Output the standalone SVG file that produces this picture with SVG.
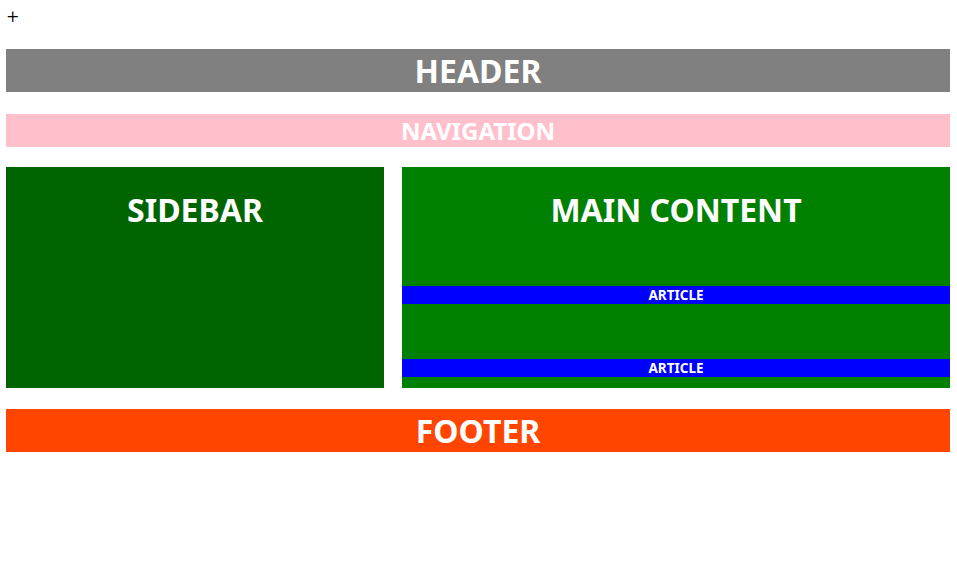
<svg xmlns="http://www.w3.org/2000/svg" width="957" height="567" viewBox="0 0 957 567">
<style>
text{font-family:"Noto Sans","DejaVu Sans",sans-serif;font-weight:bold;fill:#fff;text-anchor:middle}
.big{font-size:32px}
.nav{font-size:24px}
.art{font-size:13.5px}
</style>
<rect width="957" height="567" fill="#fff"/>
<text x="6" y="22" style="font-weight:normal;fill:#000;text-anchor:start;font-size:16px;font-family:'DejaVu Serif',serif">+</text>
<g id="header"><rect x="6" y="49" width="944" height="43" fill="#808080"/><text class="big" x="478" y="83">HEADER</text></g>
<g id="navigation"><rect x="6" y="114" width="944" height="33" fill="#ffc0cb"/><text class="nav" x="478" y="140">NAVIGATION</text></g>
<g id="sidebar"><rect x="6" y="167" width="378" height="221" fill="#006400"/><text class="big" x="195" y="222">SIDEBAR</text></g>
<g id="main"><rect x="402" y="167" width="548" height="221" fill="#008000"/><text class="big" x="676" y="222">MAIN CONTENT</text></g>
<g id="article1"><rect x="402" y="286" width="548" height="18" fill="#0000ff"/><text class="art" x="676" y="300">ARTICLE</text></g>
<g id="article2"><rect x="402" y="359" width="548" height="18" fill="#0000ff"/><text class="art" x="676" y="373">ARTICLE</text></g>
<g id="footer"><rect x="6" y="409" width="944" height="43" fill="#ff4500"/><text class="big" x="478" y="443">FOOTER</text></g>
<g id="connectors"/>
</svg>
